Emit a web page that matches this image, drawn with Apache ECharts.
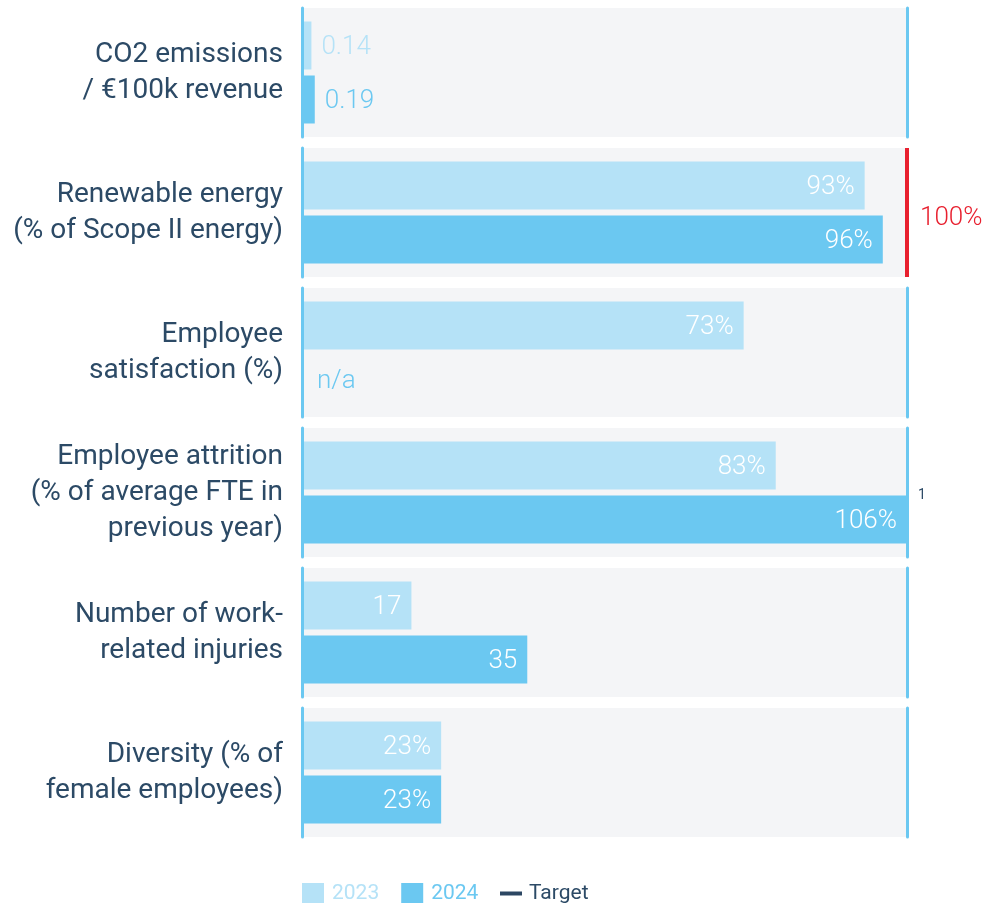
<!DOCTYPE html>
<html>
<head>
<meta charset="utf-8">
<title>Sustainability KPIs</title>
<script src="https://cdn.jsdelivr.net/npm/echarts@6/dist/echarts.min.js"></script>
<style>
  html, body { margin: 0; padding: 0; background: #ffffff; }
  #chart { width: 983px; height: 903px; }
</style>
</head>
<body>
<div id="chart"></div>
<script>
// KPI rows, top to bottom
const categories = [
  'CO2 emissions\n/ €100k revenue',
  'Renewable energy\n(% of Scope II energy)',
  'Employee\nsatisfaction (%)',
  'Employee attrition\n(% of average FTE in\nprevious year)',
  'Number of work-\nrelated injuries',
  'Diversity (% of\nfemale employees)'
];
const values2023 = [0.14, 93, 73, 83, 17, 23];
const values2024 = [0.19, 96, null, 106, 35, 23];
const units = ['', '%', '%', '%', '', '%'];
const targets = [null, 100, null, null, null, null];
const scaleMax = [9, 100, 100, 106, 94, 100];
const footnotes = [null, null, null, '1', null, null];
const seriesNames = ['2023', '2024', 'Target'];

const COLOR_2023 = '#b5e2f7';
const COLOR_2024 = '#6bc8f1';
const COLOR_TARGET_LINE = '#e8202f';
const COLOR_TARGET_KEY = '#2c4763';
const TEXT = '#2c4a66';
const PANEL_BG = '#f4f5f7';
const FONT = 'Roboto, "Noto Sans", sans-serif';

const chart = echarts.init(document.getElementById('chart'), null, { renderer: 'canvas' });

const PANEL_TOP = 8, PANEL_STEP = 140, PANEL_H = 129, LEFT = 302, RIGHT = 76;

const grids = [], xAxes = [], yAxes = [], series = [];

function fmtValue(v, unit) {
  return String(v) + (unit ? '%' : '');
}

categories.forEach((cat, i) => {
  grids.push({
    left: LEFT, right: RIGHT,
    top: PANEL_TOP + i * PANEL_STEP, height: PANEL_H,
    show: true, backgroundColor: PANEL_BG, borderWidth: 0
  });
  xAxes.push({
    type: 'value', gridIndex: i, min: 0, max: scaleMax[i], show: false
  });
  // left axis carries the row label and the blue baseline
  yAxes.push({
    type: 'category', gridIndex: i, data: [cat], inverse: true, z: 4,
    axisLine: { show: true, lineStyle: { color: COLOR_2024, width: 3 } },
    axisTick: { show: false },
    axisLabel: {
      margin: 19, color: TEXT, fontFamily: FONT, fontSize: 28,
      lineHeight: 36, align: 'right'
    }
  });
  // right edge line (replaced by the target line where a target exists)
  yAxes.push({
    type: 'category', gridIndex: i, data: [cat], position: 'right', inverse: true, z: 4,
    axisLine: { show: targets[i] == null, lineStyle: { color: COLOR_2024, width: 3 } },
    axisTick: { show: false }, axisLabel: { show: false }
  });

  [values2023, values2024].forEach((arr, s) => {
    const v = arr[i];
    const color = s === 0 ? COLOR_2023 : COLOR_2024;
    const small = v == null || v / scaleMax[i] < 0.1;
    const item = {
      value: v == null ? 0 : v,
      label: {
        show: true,
        position: small ? 'right' : 'insideRight',
        distance: v == null ? 15 : 10,
        color: small ? color : '#ffffff',
        fontFamily: FONT, fontSize: 26, fontWeight: 300,
        offset: [0, 2],
        formatter: v == null ? 'n/a' : fmtValue(v, units[i])
      }
    };
    series.push({
      type: 'bar', name: seriesNames[s],
      xAxisIndex: i, yAxisIndex: i * 2,
      barWidth: 48, barGap: '12.5%',
      itemStyle: { color: color },
      data: [item],
      silent: true
    });
  });

  if (targets[i] != null) {
    series.push({
      type: 'custom', name: 'Target',
      xAxisIndex: i, yAxisIndex: i * 2,
      itemStyle: { color: COLOR_TARGET_KEY },
      clip: false, z: 10, silent: true,
      data: [[targets[i], 0]],
      renderItem: function (params, api) {
        const p = api.coord([api.value(0), 0]);
        const cs = params.coordSys;
        return {
          type: 'group',
          children: [
            {
              type: 'line',
              shape: { x1: p[0], y1: cs.y, x2: p[0], y2: cs.y + cs.height },
              style: { stroke: COLOR_TARGET_LINE, lineWidth: 4 }
            },
            {
              type: 'text',
              style: {
                text: api.value(0) + '%',
                x: p[0] + 13, y: cs.y + cs.height / 2 + 6,
                verticalAlign: 'middle', align: 'left',
                fill: COLOR_TARGET_LINE,
                font: '300 26px ' + FONT
              }
            }
          ]
        };
      }
    });
  }
});

// footnote markers placed at the right edge of their row
const graphics = [];
footnotes.forEach((f, i) => {
  if (!f) return;
  graphics.push({
    type: 'text', left: 918, top: PANEL_TOP + i * PANEL_STEP + 60,
    style: { text: f, fill: TEXT, font: '14px ' + FONT }
  });
});

chart.setOption({
  animation: false,
  grid: grids,
  xAxis: xAxes,
  yAxis: yAxes,
  series: series,
  graphic: graphics,
  legend: [
    {
      left: 302, top: 883, padding: 0, icon: 'rect', itemWidth: 22, itemHeight: 22, itemGap: 22,
      selectedMode: false,
      textStyle: { fontFamily: FONT, fontSize: 21, padding: [0, 0, 0, 3] },
      data: [
        { name: '2023', textStyle: { color: COLOR_2023 } },
        { name: '2024', textStyle: { color: COLOR_2024 } }
      ]
    },
    {
      left: 500, top: 883, padding: 0, icon: 'rect', itemWidth: 22, itemHeight: 4,
      selectedMode: false,
      textStyle: { fontFamily: FONT, fontSize: 21, color: TEXT, padding: [0, 0, 0, 2] },
      data: [{ name: 'Target', itemStyle: { color: COLOR_TARGET_KEY } }]
    }
  ]
});
</script>
</body>
</html>
